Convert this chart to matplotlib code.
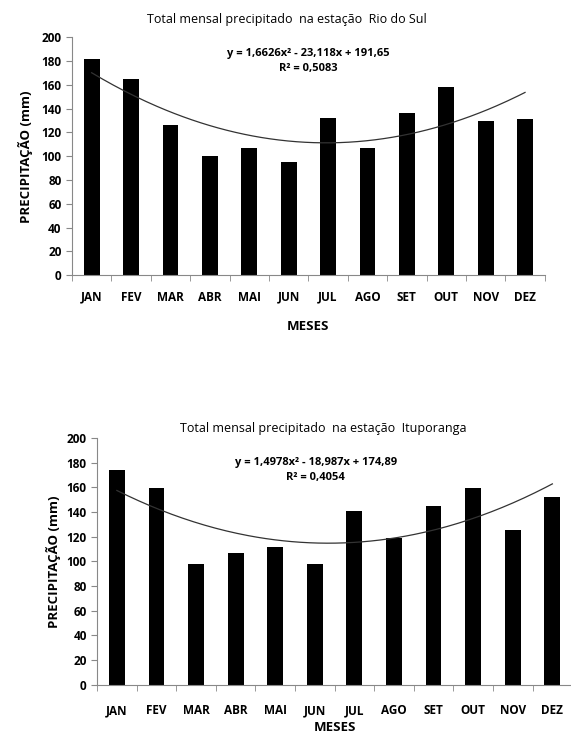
import matplotlib
matplotlib.use("Agg")
import matplotlib.pyplot as plt
import numpy as np

plt.rcParams['font.family'] = ['Open Sans', 'DejaVu Sans']

meses = ["JAN", "FEV", "MAR", "ABR", "MAI", "JUN", "JUL", "AGO", "SET", "OUT", "NOV", "DEZ"]

# Rio do Sul
rio_do_sul = [182, 165, 126, 100, 107, 95, 132, 107, 136, 158, 130, 131]
rio_coef = [1.6626, -23.118, 191.65]
rio_eq = "y = 1,6626x² - 23,118x + 191,65"
rio_r2 = "R² = 0,5083"

# Ituporanga
ituporanga = [174, 159, 98, 107, 112, 98, 141, 119, 145, 159, 125, 152]
itu_coef = [1.4978, -18.987, 174.89]
itu_eq = "y = 1,4978x² - 18,987x + 174,89"
itu_r2 = "R² = 0,4054"

fig = plt.figure(figsize=(5.71, 7.38), dpi=100)

ax1 = fig.add_axes([0.126, 0.627, 0.828, 0.3225])
ax2 = fig.add_axes([0.170, 0.072, 0.832, 0.3347])


def draw(ax, valores, coef, eq, r2, titulo, tx, tpad, eqx, eqy, ylpad, xtpad, xlpad):
    x = np.arange(1, 13)
    ax.bar(x, valores, width=0.4, color="black")
    # linha de tendencia polinomial (coeficientes do grafico)
    xs = np.linspace(1, 12, 200)
    ax.plot(xs, np.polyval(coef, xs), color="#333333", lw=0.9)
    ax.set_xlim(0.5, 12.5)
    ax.set_ylim(0, 200)
    ax.set_yticks(range(0, 201, 20))
    ax.set_xticks(x)
    ax.set_xticklabels(meses, fontweight="bold", fontsize=8.5)
    ax.set_xticks(np.arange(0.5, 13, 1), minor=True)
    ax.tick_params(axis="x", which="major", length=0, pad=xtpad)
    ax.tick_params(axis="x", which="minor", length=4, color="#888888")
    ax.tick_params(axis="y", length=4, color="#888888", labelsize=8.5)
    for lab in ax.get_yticklabels():
        lab.set_fontweight("bold")
    for s in ["top", "right"]:
        ax.spines[s].set_visible(False)
    for s in ["left", "bottom"]:
        ax.spines[s].set_color("#888888")
    ax.set_title(titulo, fontsize=9, pad=tpad, x=tx)
    ax.text(eqx, eqy, eq, transform=ax.transAxes, ha="center", fontsize=8, fontweight="bold")
    ax.text(eqx, eqy - 0.06, r2, transform=ax.transAxes, ha="center", fontsize=8, fontweight="bold")
    ax.set_xlabel("MESES", fontsize=9.5, fontweight="bold", labelpad=xlpad)
    ax.set_ylabel("PRECIPITAÇÃO (mm)", fontsize=9.5, fontweight="bold", labelpad=ylpad)


draw(ax1, rio_do_sul, rio_coef, rio_eq, rio_r2,
     "Total mensal precipitado  na estação  Rio do Sul", 0.455, 10, 0.50, 0.92, 6, 11, 12)
draw(ax2, ituporanga, itu_coef, itu_eq, itu_r2,
     "Total mensal precipitado  na estação  Ituporanga", 0.476, 4, 0.46, 0.89, 4, 14, 3)

fig.savefig("out.png", dpi=100)
